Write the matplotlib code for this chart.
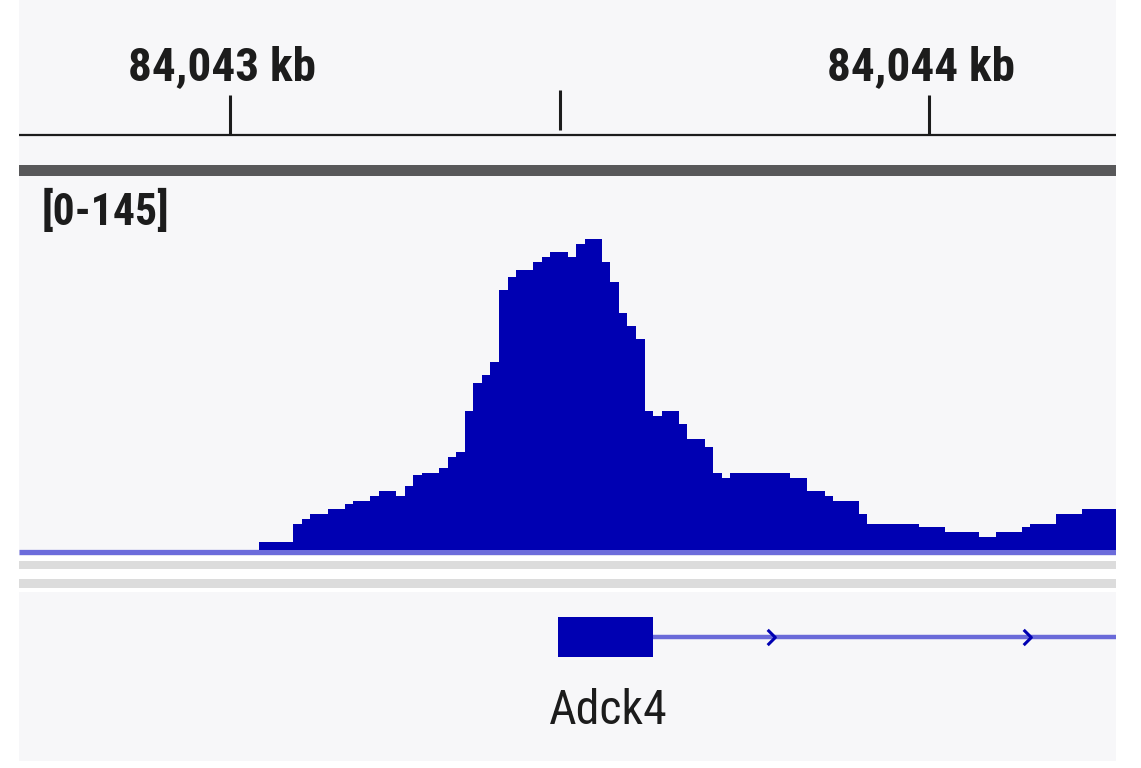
import matplotlib
matplotlib.use("Agg")
import matplotlib.pyplot as plt
import numpy as np
from matplotlib import font_manager
from matplotlib.font_manager import FontProperties
from matplotlib.patches import Rectangle
from matplotlib.path import Path
from matplotlib.transforms import blended_transform_factory

# ---------------- data ----------------
view_start = 84042698          # bp, left edge of view
view_end = 84044267            # bp, right edge of view
major_ticks = [84043000, 84044000]
center_tick = 84043472
data_range = [0, 145]

# coverage per bin (128 equal bins across the view)
coverage = ([0] * 28 + [3] * 4 +
            [10, 12, 14, 14, 16, 16, 18, 19, 19, 21, 23, 23, 21, 25, 29, 30, 30, 32, 36, 38,
             54, 65, 68, 73, 101, 106, 109, 109, 112, 114, 116, 116, 114, 119, 121, 121,
             112, 104, 92, 87, 82, 54, 52, 54, 54, 49, 43, 43, 40, 30, 28,
             30, 30, 30, 30, 30, 30, 30, 28, 28, 23, 23, 21, 19, 19, 19, 14,
             10, 10, 10, 10, 10, 10, 9, 9, 9, 7, 7, 7, 7, 5, 5, 7, 7, 7, 9,
             10, 10, 10, 14, 14, 14, 16, 16, 16, 16])

gene_name = "Adck4"
exon_start, exon_end = 84043469, 84043605
strand_arrows = [84043773, 84044140]

# ---------------- fonts (prefer a condensed sans) ----------------
entries = font_manager.fontManager.ttflist

def find_font(bold):
    def is_bold(e):
        w = e.weight
        if isinstance(w, str):
            return w in ("bold", "heavy", "extra bold", "demibold", "semibold", "black")
        return w >= 600
    def ok_weight(e):
        return is_bold(e) == bold
    for key in ("Liberation Sans Narrow", "Arial Narrow", "Roboto Condensed",
                "Open Sans Condensed", "Noto Sans Condensed", "DejaVu Sans Condensed"):
        for e in entries:
            if e.name == key and ok_weight(e) and e.style == "normal":
                return FontProperties(fname=e.fname), True
    for e in entries:
        st = e.stretch
        cond = (st in ("condensed", "semi-condensed", "extra-condensed")) or \
               (isinstance(st, (int, float)) and st < 500)
        if cond and ok_weight(e) and e.style == "normal" and "Mono" not in e.name \
                and "Serif" not in e.name:
            return FontProperties(fname=e.fname), True
    for e in entries:
        if ("Condensed" in e.fname or "Narrow" in e.fname) and ok_weight(e) \
                and "Mono" not in e.fname and "Serif" not in e.fname \
                and "Italic" not in e.fname and "Oblique" not in e.fname:
            return FontProperties(fname=e.fname), True
    fp = FontProperties(family=["Liberation Sans", "DejaVu Sans"],
                        weight="bold" if bold else "normal")
    return fp, False

fp_bold, cond_b = find_font(True)
fp_reg, cond_r = find_font(False)
sb = 1.0 if cond_b else 0.9
sr = 1.0 if cond_r else 0.9

W, H = 1141, 768
DARK = "#1c1c1c"
BLUE = "#0000b2"

def frac(x0, y0, x1, y1):
    return [x0 / W, 1 - y1 / H, (x1 - x0) / W, (y1 - y0) / H]

fig = plt.figure(figsize=(W / 100, H / 100), dpi=100, facecolor="white")

# frame axes: x in bp, y in pixels (top->bottom)
ax = fig.add_axes(frac(19, 0, 1116, 761))
ax.set_facecolor("#f7f7f9")
ax.set_xlim(view_start, view_end)
ax.set_ylim(761, 0)
for s in ax.spines.values():
    s.set_visible(False)
ax.set_xticks([])
ax.set_yticks([])

def tfp(base, size):
    p = base.copy()
    p.set_size(size)
    return p

# ruler
ax.hlines(135, view_start, view_end, color=DARK, lw=1.6)
ax.vlines(major_ticks, 95, 135, color=DARK, lw=2.2)
ax.vlines([center_tick], 90, 130, color=DARK, lw=2.2)
for t in major_ticks:
    ax.text(t - 12, 80, f"{t // 1000:,} kb", ha="center", va="baseline",
            fontproperties=tfp(fp_bold, 34 * sb), color=DARK)

# grey separator bar
ax.axhspan(165, 176, color="#58585a", lw=0)

# data range label
bt = blended_transform_factory(ax.transAxes, ax.transData)
ax.text((42 - 19) / 1097, 225, f"[{data_range[0]}-{data_range[1]}]", transform=bt,
        ha="left", va="baseline", fontproperties=tfp(fp_bold, 31.5 * sb), color=DARK)

# baseline of coverage track
ax.hlines(551.5, view_start, view_end, color="#6c6cdb", lw=3.8)

# separator bands
ax.axhspan(556, 592, color="white", lw=0)
ax.axhspan(561, 569, color="#dcdcdc", lw=0)
ax.axhspan(579, 588, color="#dcdcdc", lw=0)

# gene track
ax.hlines(637, exon_end, view_end, color="#6a6ad9", lw=3.2)
ax.add_patch(Rectangle((exon_start, 617), exon_end - exon_start, 40,
                       facecolor=BLUE, edgecolor="none"))
chev = Path([(-0.5, 1), (0.5, 0), (-0.5, -1)],
            [Path.MOVETO, Path.LINETO, Path.LINETO])
ax.plot(strand_arrows, [637] * len(strand_arrows), linestyle="none",
        marker=chev, markersize=11, markerfacecolor="none",
        markeredgecolor=BLUE, markeredgewidth=2.2)
ax.text((exon_start + exon_end) / 2 + 4, 724, gene_name, ha="center", va="baseline",
        fontproperties=tfp(fp_reg, 34.5 * sr), color=DARK)

# coverage axes
cax = fig.add_axes(frac(19, 177, 1116, 550))
cax.set_facecolor("none")
cax.set_xlim(view_start, view_end)
cax.set_ylim(*data_range)
for s in cax.spines.values():
    s.set_visible(False)
cax.set_xticks([])
cax.set_yticks([])
edges = np.linspace(view_start, view_end, len(coverage) + 1)
cax.stairs(coverage, edges, fill=True, color=BLUE, baseline=0, lw=0)

fig.savefig("out.png", dpi=100, facecolor="white")
